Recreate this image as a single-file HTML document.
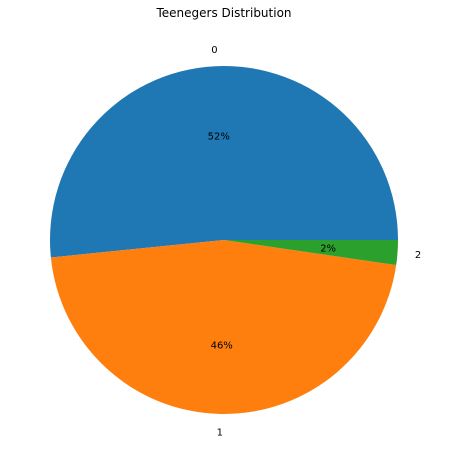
<!DOCTYPE html>
<html><head><meta charset="utf-8"><style>
body{margin:0;background:#fff;}
svg{display:block;font-family:"DejaVu Sans","Liberation Sans",sans-serif;}
</style></head><body>
<svg id="chart" width="449" height="465" viewBox="0 0 449 465">
<text x="224" y="17" text-anchor="middle" font-size="12" fill="#000">Teenegers Distribution</text>
</svg>
<script>
const categories = ["0", "1", "2"];
const values = [51.6, 46.1, 2.3];
const pctLabels = ["52%", "46%", "2%"];
const colors = ["#1f77b4", "#ff7f0e", "#2ca02c"];

const svg = document.getElementById('chart');
const NS = 'http://www.w3.org/2000/svg';
const cx = 224, cy = 240, r = 174;
const total = values.reduce((a, b) => a + b, 0);
function pt(angDeg, rad) {
  const a = angDeg * Math.PI / 180;
  return [cx + rad * Math.cos(a), cy - rad * Math.sin(a)];
}
let start = 0;
values.forEach((v, i) => {
  const sweep = v / total * 360;
  const end = start + sweep;
  const [x1, y1] = pt(start, r);
  const [x2, y2] = pt(end, r);
  const large = sweep > 180 ? 1 : 0;
  const p = document.createElementNS(NS, 'path');
  p.setAttribute('d', `M${cx},${cy} L${x1},${y1} A${r},${r} 0 ${large} 0 ${x2},${y2} Z`);
  p.setAttribute('fill', colors[i]);
  
  
  svg.appendChild(p);
  const mid = start + sweep / 2;
  const [lx, ly] = pt(mid, r * 1.1);
  const t = document.createElementNS(NS, 'text');
  const c = Math.cos(mid * Math.PI / 180);
  t.setAttribute('x', lx);
  t.setAttribute('y', ly + 4);
  t.setAttribute('font-size', '10');
  t.setAttribute('text-anchor', c > 0.1 ? 'start' : (c < -0.1 ? 'end' : 'middle'));
  t.textContent = categories[i];
  
  
  svg.appendChild(t);
  const [px, py] = pt(mid, r * 0.6);
  const tp = document.createElementNS(NS, 'text');
  tp.setAttribute('x', px);
  tp.setAttribute('y', py + 4);
  tp.setAttribute('font-size', '10');
  tp.setAttribute('text-anchor', 'middle');
  tp.textContent = pctLabels[i];
  
  
  svg.appendChild(tp);
  start = end;
});
</script>
</body></html>
